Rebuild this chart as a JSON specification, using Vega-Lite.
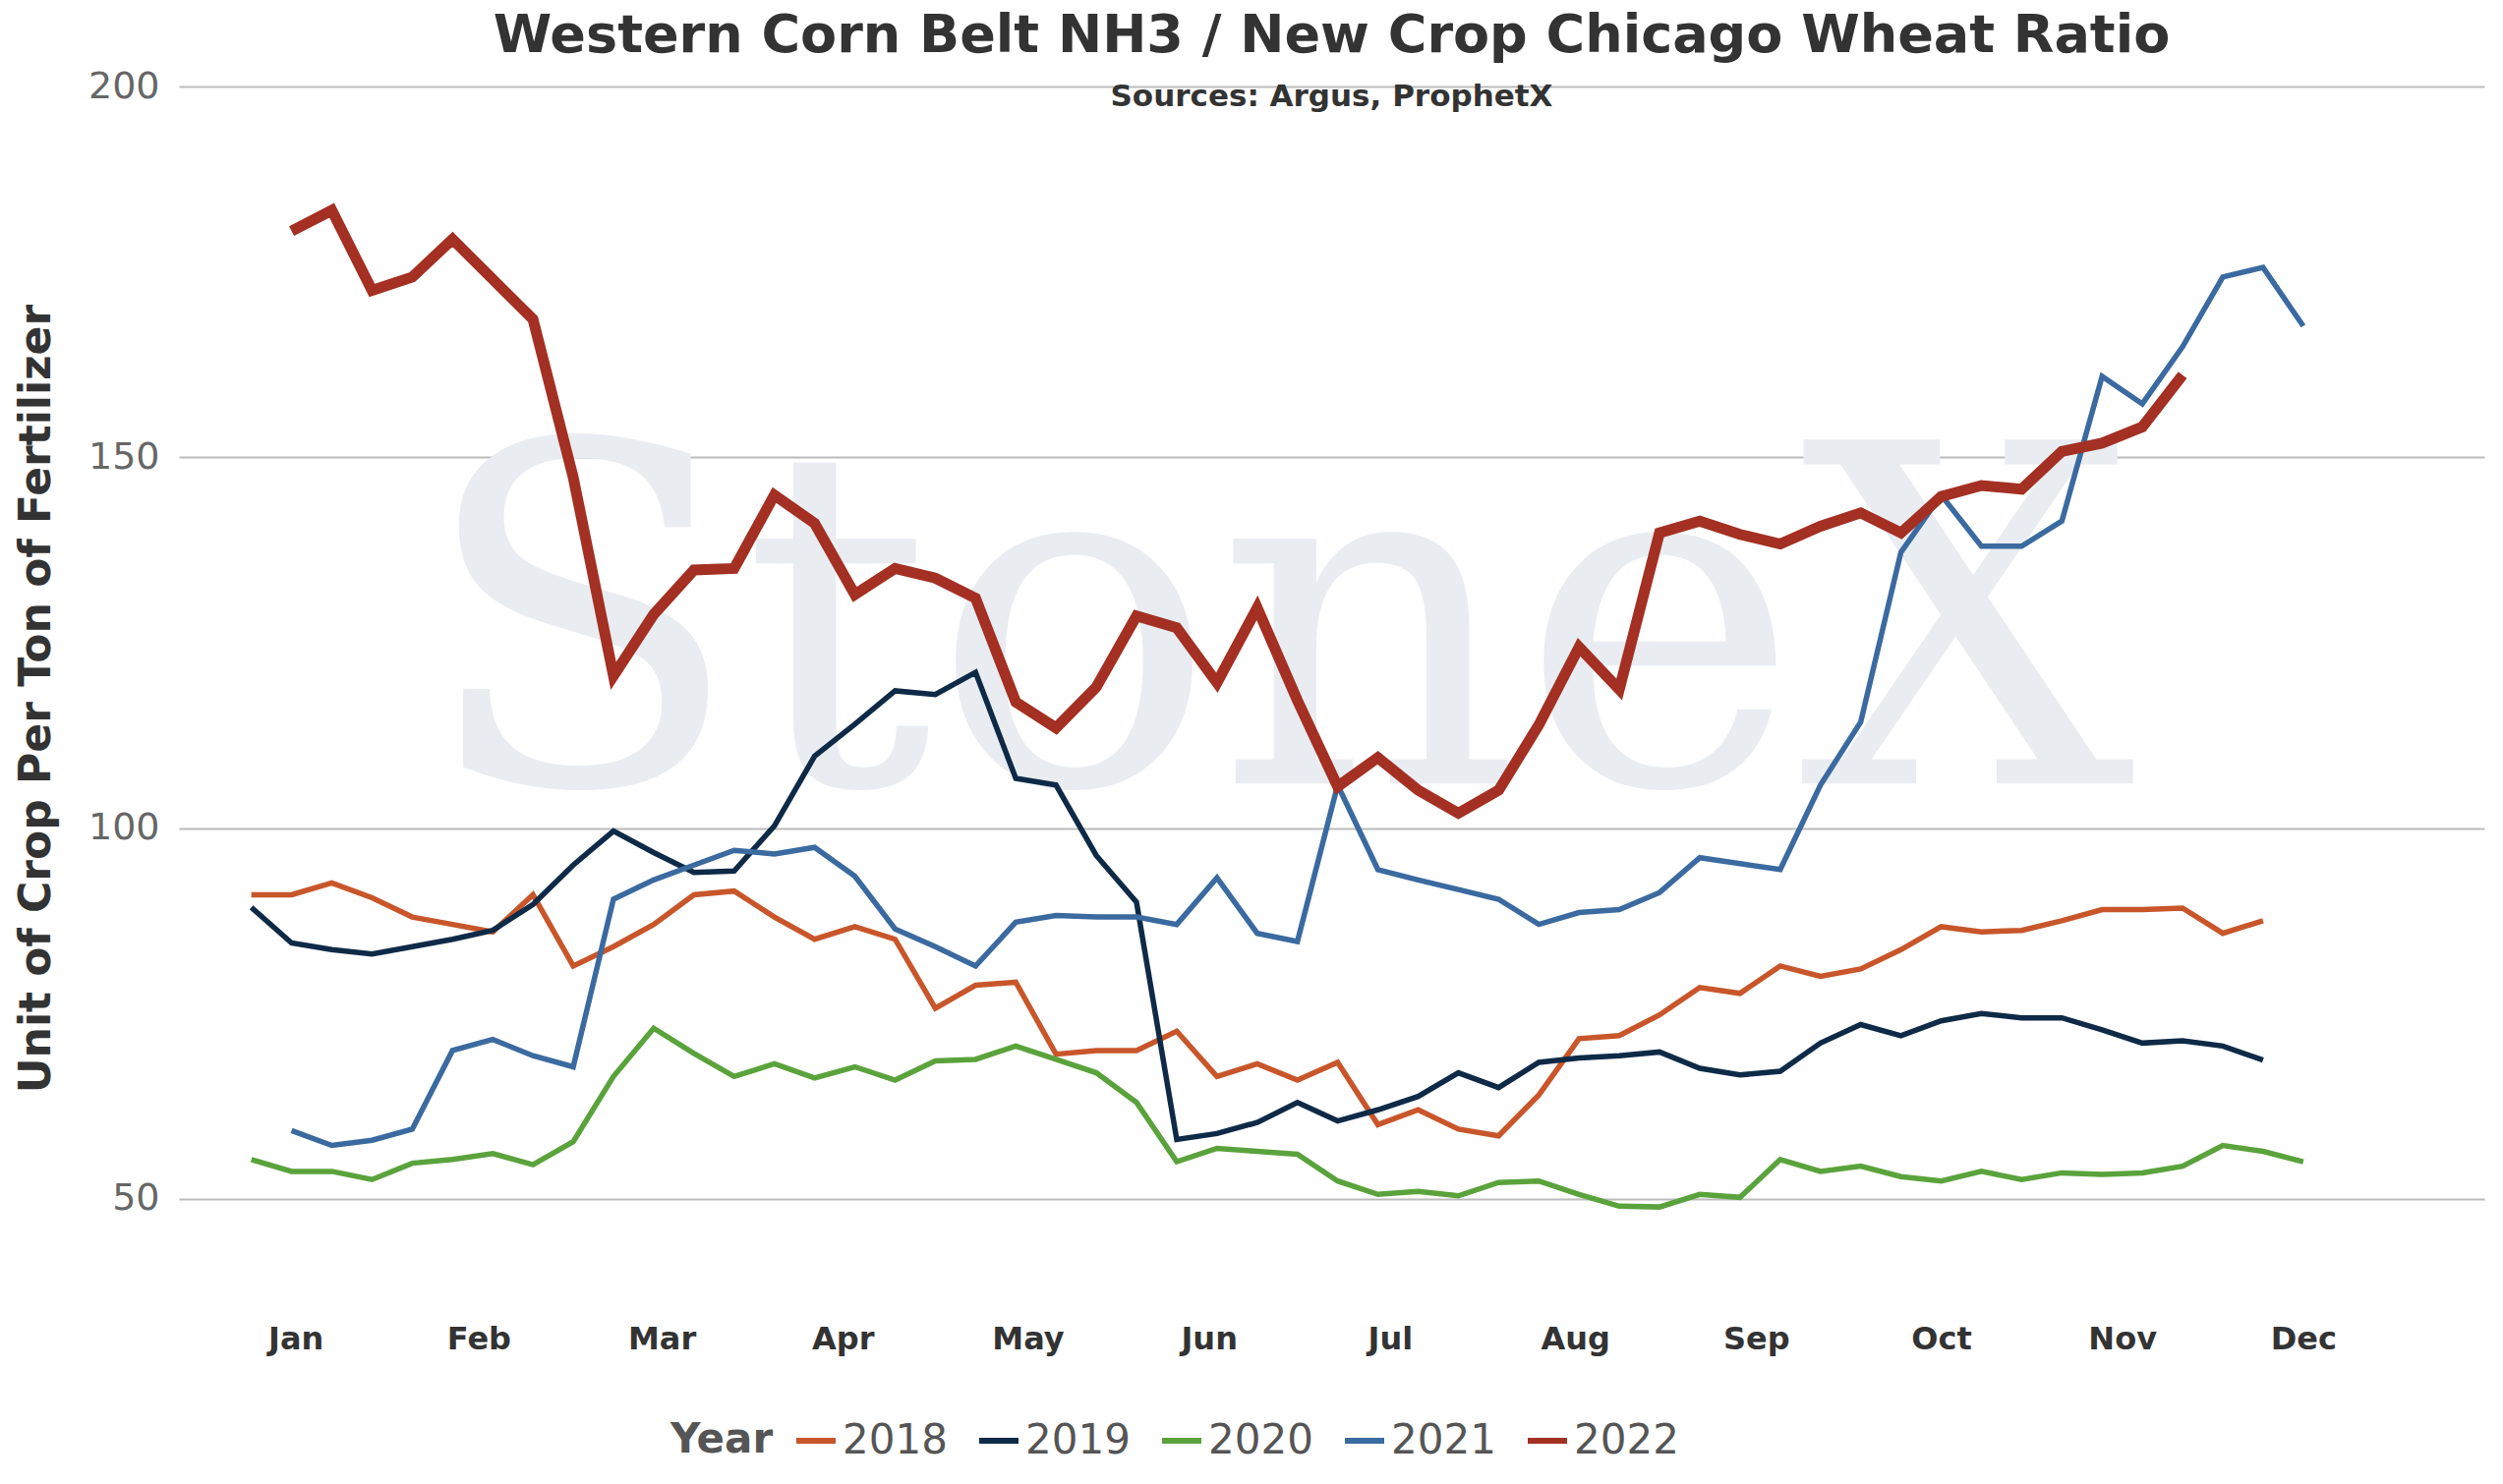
{
  "$schema": "https://vega.github.io/schema/vega-lite/v6.json",
  "width": 2345,
  "height": 1245,
  "padding": {"left": 15, "right": 15, "top": 10, "bottom": 20},
  "background": "white",
  "config": {"view": {"stroke": null}},
  "title": {
    "text": "Western Corn Belt NH3 / New Crop Chicago Wheat Ratio",
    "subtitle": "Sources: Argus, ProphetX",
    "font": "Verdana, DejaVu Sans",
    "fontSize": 54,
    "fontWeight": "bold",
    "color": "#333333",
    "subtitleFont": "DejaVu Sans",
    "subtitleFontSize": 31,
    "subtitleFontWeight": "bold",
    "subtitleColor": "#333333",
    "subtitlePadding": 20,
    "offset": -45
  },
  "datasets": {
    "mark": [{"label": "StoneX", "w": 25.5, "v": 106}],
    "ratio": [
      {"year":"2018","w":0,"v":91},{"year":"2018","w":1,"v":91},{"year":"2018","w":2,"v":92.6},{"year":"2018","w":3,"v":90.6},{"year":"2018","w":4,"v":88},{"year":"2018","w":5,"v":87},{"year":"2018","w":6,"v":86},{"year":"2018","w":7,"v":91},{"year":"2018","w":8,"v":81.4},{"year":"2018","w":9,"v":84},{"year":"2018","w":10,"v":87},{"year":"2018","w":11,"v":91},{"year":"2018","w":12,"v":91.5},{"year":"2018","w":13,"v":88},{"year":"2018","w":14,"v":85},{"year":"2018","w":15,"v":86.7},{"year":"2018","w":16,"v":85},{"year":"2018","w":17,"v":75.7},{"year":"2018","w":18,"v":78.8},{"year":"2018","w":19,"v":79.2},{"year":"2018","w":20,"v":69.5},{"year":"2018","w":21,"v":70},{"year":"2018","w":22,"v":70},{"year":"2018","w":23,"v":72.6},{"year":"2018","w":24,"v":66.5},{"year":"2018","w":25,"v":68.2},{"year":"2018","w":26,"v":66},{"year":"2018","w":27,"v":68.4},{"year":"2018","w":28,"v":60},{"year":"2018","w":29,"v":62},{"year":"2018","w":30,"v":59.4},{"year":"2018","w":31,"v":58.5},{"year":"2018","w":32,"v":64},{"year":"2018","w":33,"v":71.6},{"year":"2018","w":34,"v":72},{"year":"2018","w":35,"v":74.8},{"year":"2018","w":36,"v":78.5},{"year":"2018","w":37,"v":77.7},{"year":"2018","w":38,"v":81.4},{"year":"2018","w":39,"v":80},{"year":"2018","w":40,"v":81},{"year":"2018","w":41,"v":83.6},{"year":"2018","w":42,"v":86.7},{"year":"2018","w":43,"v":86},{"year":"2018","w":44,"v":86.2},{"year":"2018","w":45,"v":87.5},{"year":"2018","w":46,"v":89},{"year":"2018","w":47,"v":89},{"year":"2018","w":48,"v":89.2},{"year":"2018","w":49,"v":85.8},{"year":"2018","w":50,"v":87.5},
      {"year":"2019","w":0,"v":89.3},{"year":"2019","w":1,"v":84.5},{"year":"2019","w":2,"v":83.6},{"year":"2019","w":3,"v":83},{"year":"2019","w":4,"v":84},{"year":"2019","w":5,"v":85},{"year":"2019","w":6,"v":86.2},{"year":"2019","w":7,"v":89.7},{"year":"2019","w":8,"v":95},{"year":"2019","w":9,"v":99.6},{"year":"2019","w":10,"v":96.7},{"year":"2019","w":11,"v":94},{"year":"2019","w":12,"v":94.2},{"year":"2019","w":13,"v":100.3},{"year":"2019","w":14,"v":109.7},{"year":"2019","w":15,"v":114},{"year":"2019","w":16,"v":118.5},{"year":"2019","w":17,"v":118},{"year":"2019","w":18,"v":121},{"year":"2019","w":19,"v":106.7},{"year":"2019","w":20,"v":105.8},{"year":"2019","w":21,"v":96.3},{"year":"2019","w":22,"v":90},{"year":"2019","w":23,"v":58},{"year":"2019","w":24,"v":58.8},{"year":"2019","w":25,"v":60.3},{"year":"2019","w":26,"v":63},{"year":"2019","w":27,"v":60.5},{"year":"2019","w":28,"v":62},{"year":"2019","w":29,"v":63.8},{"year":"2019","w":30,"v":67},{"year":"2019","w":31,"v":65},{"year":"2019","w":32,"v":68.4},{"year":"2019","w":33,"v":69},{"year":"2019","w":34,"v":69.3},{"year":"2019","w":35,"v":69.8},{"year":"2019","w":36,"v":67.6},{"year":"2019","w":37,"v":66.7},{"year":"2019","w":38,"v":67.2},{"year":"2019","w":39,"v":71},{"year":"2019","w":40,"v":73.5},{"year":"2019","w":41,"v":72},{"year":"2019","w":42,"v":74},{"year":"2019","w":43,"v":75},{"year":"2019","w":44,"v":74.4},{"year":"2019","w":45,"v":74.4},{"year":"2019","w":46,"v":72.8},{"year":"2019","w":47,"v":71},{"year":"2019","w":48,"v":71.3},{"year":"2019","w":49,"v":70.6},{"year":"2019","w":50,"v":68.7},
      {"year":"2020","w":0,"v":55.3},{"year":"2020","w":1,"v":53.7},{"year":"2020","w":2,"v":53.7},{"year":"2020","w":3,"v":52.6},{"year":"2020","w":4,"v":54.8},{"year":"2020","w":5,"v":55.3},{"year":"2020","w":6,"v":56.1},{"year":"2020","w":7,"v":54.6},{"year":"2020","w":8,"v":57.7},{"year":"2020","w":9,"v":66.5},{"year":"2020","w":10,"v":73},{"year":"2020","w":11,"v":69.6},{"year":"2020","w":12,"v":66.5},{"year":"2020","w":13,"v":68.2},{"year":"2020","w":14,"v":66.3},{"year":"2020","w":15,"v":67.8},{"year":"2020","w":16,"v":66},{"year":"2020","w":17,"v":68.6},{"year":"2020","w":18,"v":68.8},{"year":"2020","w":19,"v":70.6},{"year":"2020","w":20,"v":68.8},{"year":"2020","w":21,"v":67},{"year":"2020","w":22,"v":63},{"year":"2020","w":23,"v":55},{"year":"2020","w":24,"v":56.8},{"year":"2020","w":25,"v":56.4},{"year":"2020","w":26,"v":56},{"year":"2020","w":27,"v":52.4},{"year":"2020","w":28,"v":50.6},{"year":"2020","w":29,"v":51},{"year":"2020","w":30,"v":50.4},{"year":"2020","w":31,"v":52.2},{"year":"2020","w":32,"v":52.4},{"year":"2020","w":33,"v":50.6},{"year":"2020","w":34,"v":49},{"year":"2020","w":35,"v":48.9},{"year":"2020","w":36,"v":50.6},{"year":"2020","w":37,"v":50.2},{"year":"2020","w":38,"v":55.3},{"year":"2020","w":39,"v":53.7},{"year":"2020","w":40,"v":54.4},{"year":"2020","w":41,"v":53},{"year":"2020","w":42,"v":52.4},{"year":"2020","w":43,"v":53.7},{"year":"2020","w":44,"v":52.6},{"year":"2020","w":45,"v":53.5},{"year":"2020","w":46,"v":53.3},{"year":"2020","w":47,"v":53.5},{"year":"2020","w":48,"v":54.4},{"year":"2020","w":49,"v":57.2},{"year":"2020","w":50,"v":56.4},{"year":"2020","w":51,"v":55},
      {"year":"2021","w":1,"v":59.2},{"year":"2021","w":2,"v":57.2},{"year":"2021","w":3,"v":57.9},{"year":"2021","w":4,"v":59.4},{"year":"2021","w":5,"v":70},{"year":"2021","w":6,"v":71.5},{"year":"2021","w":7,"v":69.3},{"year":"2021","w":8,"v":67.8},{"year":"2021","w":9,"v":90.4},{"year":"2021","w":10,"v":93},{"year":"2021","w":11,"v":95},{"year":"2021","w":12,"v":97},{"year":"2021","w":13,"v":96.5},{"year":"2021","w":14,"v":97.4},{"year":"2021","w":15,"v":93.5},{"year":"2021","w":16,"v":86.4},{"year":"2021","w":17,"v":84},{"year":"2021","w":18,"v":81.4},{"year":"2021","w":19,"v":87.3},{"year":"2021","w":20,"v":88.2},{"year":"2021","w":21,"v":88},{"year":"2021","w":22,"v":88},{"year":"2021","w":23,"v":87},{"year":"2021","w":24,"v":93.3},{"year":"2021","w":25,"v":85.8},{"year":"2021","w":26,"v":84.7},{"year":"2021","w":27,"v":105.8},{"year":"2021","w":28,"v":94.4},{"year":"2021","w":29,"v":93},{"year":"2021","w":30,"v":91.7},{"year":"2021","w":31,"v":90.4},{"year":"2021","w":32,"v":87},{"year":"2021","w":33,"v":88.6},{"year":"2021","w":34,"v":89},{"year":"2021","w":35,"v":91.3},{"year":"2021","w":36,"v":96},{"year":"2021","w":37,"v":95.2},{"year":"2021","w":38,"v":94.4},{"year":"2021","w":39,"v":105.8},{"year":"2021","w":40,"v":114.3},{"year":"2021","w":41,"v":137.2},{"year":"2021","w":42,"v":144.9},{"year":"2021","w":43,"v":138},{"year":"2021","w":44,"v":138},{"year":"2021","w":45,"v":141.4},{"year":"2021","w":46,"v":160.9},{"year":"2021","w":47,"v":157.2},{"year":"2021","w":48,"v":164.9},{"year":"2021","w":49,"v":174.3},{"year":"2021","w":50,"v":175.6},{"year":"2021","w":51,"v":167.7},
      {"year":"2022","w":1,"v":180.5},{"year":"2022","w":2,"v":183.3},{"year":"2022","w":3,"v":172.5},{"year":"2022","w":4,"v":174.3},{"year":"2022","w":5,"v":179.4},{"year":"2022","w":6,"v":174},{"year":"2022","w":7,"v":168.6},{"year":"2022","w":8,"v":147.3},{"year":"2022","w":9,"v":120.5},{"year":"2022","w":10,"v":128.8},{"year":"2022","w":11,"v":134.8},{"year":"2022","w":12,"v":135},{"year":"2022","w":13,"v":144.9},{"year":"2022","w":14,"v":141.1},{"year":"2022","w":15,"v":131.5},{"year":"2022","w":16,"v":135},{"year":"2022","w":17,"v":133.7},{"year":"2022","w":18,"v":131},{"year":"2022","w":19,"v":117},{"year":"2022","w":20,"v":113.5},{"year":"2022","w":21,"v":119},{"year":"2022","w":22,"v":128.6},{"year":"2022","w":23,"v":127},{"year":"2022","w":24,"v":119.6},{"year":"2022","w":25,"v":129.7},{"year":"2022","w":26,"v":117.2},{"year":"2022","w":27,"v":105.6},{"year":"2022","w":28,"v":109.5},{"year":"2022","w":29,"v":105.1},{"year":"2022","w":30,"v":102},{"year":"2022","w":31,"v":105.1},{"year":"2022","w":32,"v":113.9},{"year":"2022","w":33,"v":124.4},{"year":"2022","w":34,"v":118.7},{"year":"2022","w":35,"v":139.8},{"year":"2022","w":36,"v":141.4},{"year":"2022","w":37,"v":139.6},{"year":"2022","w":38,"v":138.3},{"year":"2022","w":39,"v":140.7},{"year":"2022","w":40,"v":142.5},{"year":"2022","w":41,"v":139.8},{"year":"2022","w":42,"v":144.7},{"year":"2022","w":43,"v":146.2},{"year":"2022","w":44,"v":145.7},{"year":"2022","w":45,"v":150.8},{"year":"2022","w":46,"v":151.9},{"year":"2022","w":47,"v":154.1},{"year":"2022","w":48,"v":161.1}
    ]
  },
  "layer": [
    {
      "data": {"name": "mark"},
      "mark": {"type": "text", "font": "DejaVu Serif", "fontSize": 480, "color": "#e9ecf1", "baseline": "alphabetic", "align": "center"},
      "encoding": {
        "x": {"field": "w", "type": "quantitative"},
        "y": {"field": "v", "type": "quantitative"},
        "text": {"field": "label"}
      }
    },
    {
      "data": {"name": "ratio"},
      "mark": {"type": "line", "interpolate": "linear"},
      "encoding": {
        "x": {
          "field": "w", "type": "quantitative",
          "scale": {"domain": [-1.8, 55.5], "nice": false, "zero": false},
          "axis": {
            "title": null, "grid": false, "domain": false, "ticks": false,
            "values": [1.1, 5.65, 10.2, 14.7, 19.3, 23.8, 28.3, 32.9, 37.4, 42.0, 46.5, 51.0],
            "labelExpr": "['Jan','Feb','Mar','Apr','May','Jun','Jul','Aug','Sep','Oct','Nov','Dec'][round((datum.value-1.1)/4.53)]",
            "labelFont": "Verdana, DejaVu Sans", "labelFontSize": 32, "labelFontWeight": "bold",
            "labelColor": "#333333", "labelPadding": 14
          }
        },
        "y": {
          "field": "v", "type": "quantitative",
          "scale": {"domain": [35, 200], "nice": false, "zero": false},
          "axis": {
            "title": "Unit of Crop Per Ton of Fertilizer",
            "titleFont": "Verdana, DejaVu Sans", "titleFontSize": 44, "titleFontWeight": "bold",
            "titleColor": "#333333", "titlePadding": 30,
            "values": [50, 100, 150, 200], "domain": false, "ticks": false,
            "gridColor": "#bbbbbb", "gridWidth": 2,
            "labelFont": "Verdana, DejaVu Sans", "labelFontSize": 38, "labelColor": "#666666", "labelPadding": 20
          }
        },
        "color": {
          "field": "year", "type": "nominal",
          "scale": {"domain": ["2018","2019","2020","2021","2022"], "range": ["#c8562a","#0e2a47","#5aa33c","#3a6aa0","#a33022"]},
          "legend": {
            "title": "Year", "orient": "none", "direction": "horizontal", "legendX": 500, "legendY": 1355,
            "titleOrient": "left", "titleFont": "Verdana, DejaVu Sans", "titleFontSize": 42, "titleFontWeight": "bold", "titleColor": "#555555",
            "labelFont": "Verdana, DejaVu Sans", "labelFontSize": 42, "labelColor": "#555555",
            "symbolType": "stroke", "symbolSize": 1600, "symbolStrokeWidth": 6, "columnPadding": 20, "titlePadding": 20
          }
        },
        "strokeWidth": {
          "condition": {"test": "datum.year === '2022'", "value": 11},
          "value": 5.5
        }
      }
    }
  ]
}
